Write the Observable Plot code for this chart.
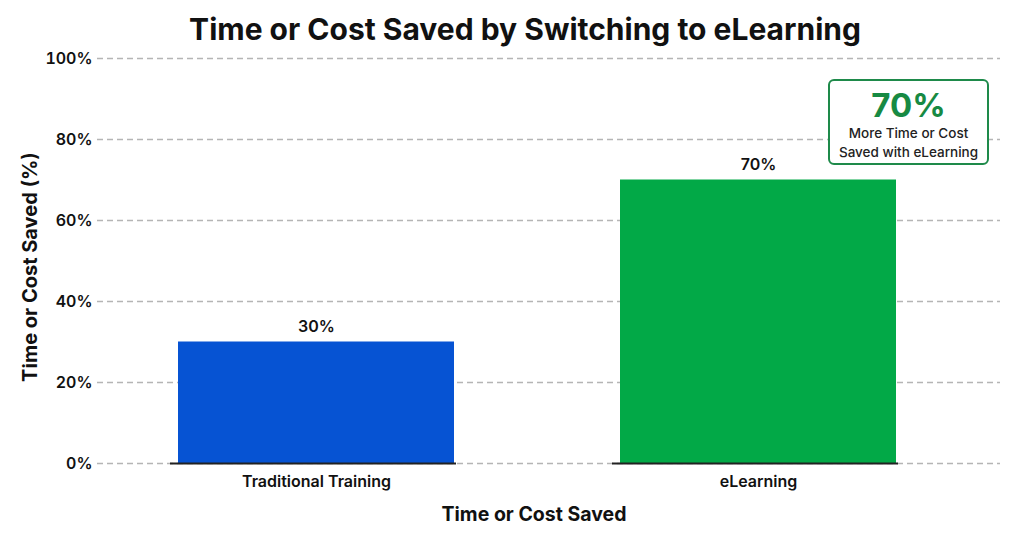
<!DOCTYPE html>
<html>
<head>
<meta charset="utf-8">
<script src="https://cdn.jsdelivr.net/npm/d3@7"></script>
<script src="https://cdn.jsdelivr.net/npm/@observablehq/plot@0.6"></script>
<style>
  html, body { margin: 0; padding: 0; background: #fff; }
  body { width: 1024px; height: 536px; position: relative; overflow: hidden; font-family: Inter, Roboto, sans-serif; }
  #title { height: 45px; line-height: 58px; text-align: center; font-size: 30px; font-weight: 700; color: #111; padding-left: 26px; box-sizing: border-box; }
  #callout { position: absolute; left: 828px; top: 79px; width: 161px; height: 86px; box-sizing: border-box;
             border: 2px solid #1e8a4a; border-radius: 6px; background: #fff; text-align: center; }
  #callout .big { font-size: 33px; font-weight: 700; color: #178a43; line-height: 33px; margin-top: 8px; }
  #callout .small { font-size: 13.5px; font-weight: 500; color: #222; line-height: 19px; margin-top: 2px; }
  #chart svg { display: block; }
</style>
</head>
<body>
<div id="title">Time or Cost Saved by Switching to eLearning</div>
<div id="chart"></div>
<div id="callout"><div class="big" id="calloutValue"></div><div class="small">More Time or Cost<br>Saved with eLearning</div></div>
<script>
// Training methods and the share of time or cost they save
const categories = ["Traditional Training", "eLearning"];
const saved = [30, 70];
const barColors = ["#0653d3", "#02a947"];
const yTicks = [0, 20, 40, 60, 80, 100];

const data = categories.map((c, i) => ({category: c, value: saved[i], color: barColors[i]}));
const pct = v => `${v}%`;

document.getElementById("calloutValue").textContent = pct(saved[1]);

const chart = Plot.plot({
  width: 1024,
  height: 491,
  marginTop: 13,
  marginBottom: 73,
  marginLeft: 97,
  marginRight: 24,
  style: {fontFamily: "Inter, Roboto, sans-serif", color: "#111", background: "transparent"},
  x: {domain: categories, range: [89.6, 984.4], paddingInner: 0.3756, paddingOuter: 0.2},
  y: {domain: [0, 100]},
  marks: [
    Plot.ruleY(yTicks, {stroke: "#b5b5b5", strokeWidth: 1.5, strokeDasharray: "6,4"}),
    Plot.barY(data, {x: "category", y: "value", fill: "color"}),
    Plot.tickY(data, {x: "category", y: 0, stroke: "#222", strokeWidth: 2, insetLeft: -8, insetRight: -2}),
    Plot.text(data, {x: "category", y: "value", text: d => pct(d.value), dy: -15, fontSize: 16, fontWeight: 600, fill: "#111"}),
    Plot.axisY(yTicks, {tickSize: 0, tickPadding: 5, tickFormat: pct, fontSize: 16, fontWeight: 600, label: null}),
    Plot.axisX({tickSize: 0, tickPadding: 12, fontSize: 16, fontWeight: 600, label: null}),
    Plot.text(["Time or Cost Saved (%)"], {frameAnchor: "left", textAnchor: "middle", rotate: -90, dx: -67, dy: 6, fontSize: 20, fontWeight: 700, fill: "#111"}),
    Plot.text(["Time or Cost Saved"], {frameAnchor: "bottom", dy: 57, dx: -15, fontSize: 19.5, fontWeight: 700, fill: "#111"})
  ]
});
document.getElementById("chart").appendChild(chart);
</script>
</body>
</html>
